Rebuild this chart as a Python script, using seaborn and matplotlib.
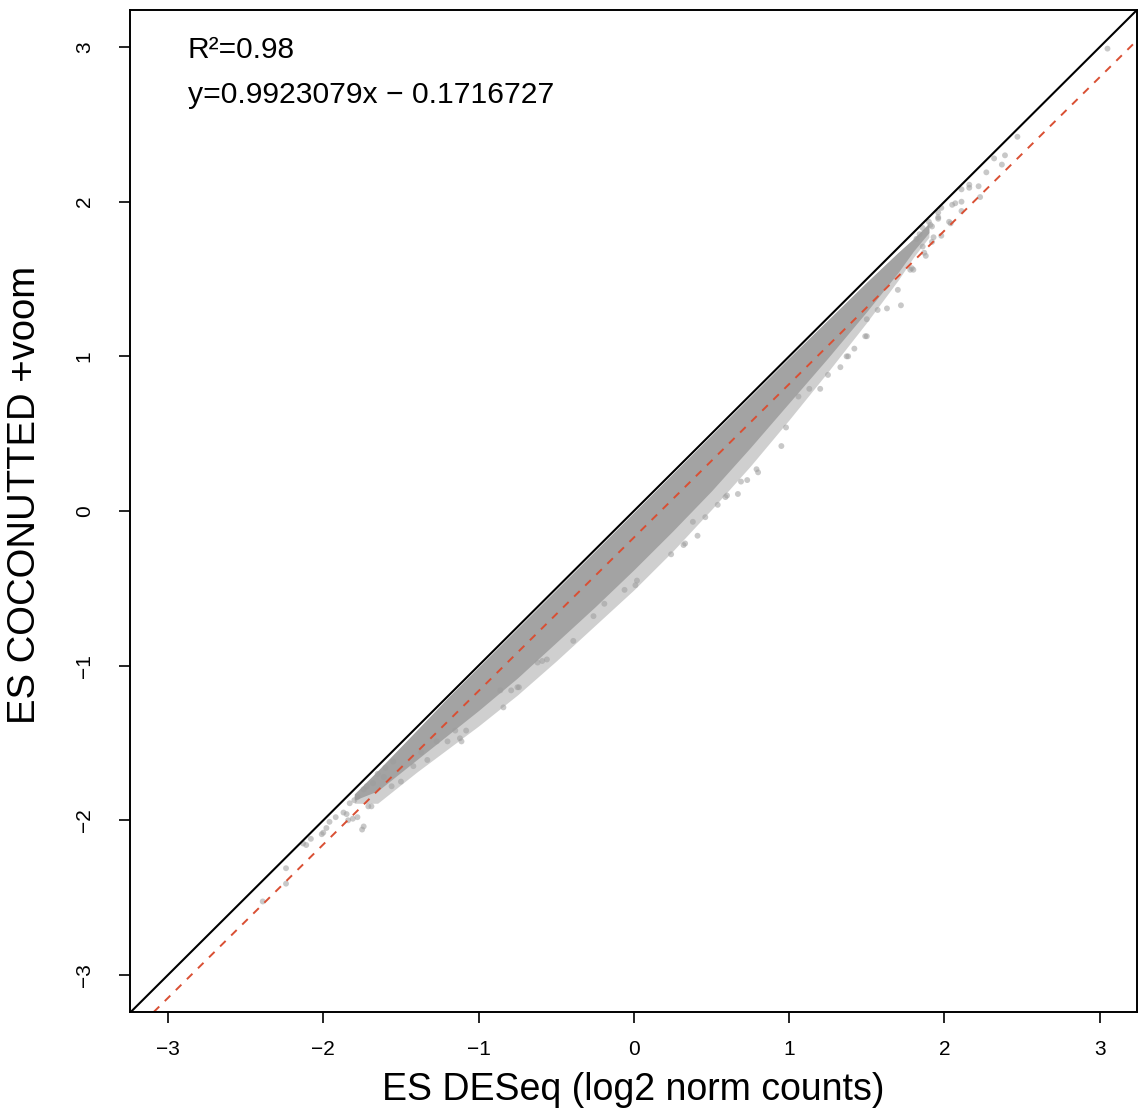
import matplotlib
matplotlib.use("Agg")
import matplotlib.pyplot as plt
import seaborn as sns
import pandas as pd

# Dense core of the cloud: x, upper y, lower y
band_x = [-1.8, -1.65, -1.4, -1.2, -1.0, -0.75, -0.5, -0.25, 0.0, 0.25, 0.5, 0.75, 1.0, 1.25, 1.5, 1.7, 1.8, 1.9]
core_hi = [-1.83, -1.68, -1.42, -1.21, -1.01, -0.76, -0.51, -0.26, -0.01, 0.24, 0.49, 0.74, 0.99, 1.235, 1.48, 1.67, 1.76, 1.86]
core_lo = [-1.87, -1.81, -1.61, -1.45, -1.29, -1.08, -0.85, -0.62, -0.38, -0.13, 0.13, 0.41, 0.70, 0.99, 1.29, 1.54, 1.68, 1.80]
halo_lo = [-1.89, -1.89, -1.69, -1.54, -1.39, -1.19, -0.97, -0.74, -0.51, -0.26, 0.01, 0.29, 0.59, 0.90, 1.22, 1.49, 1.64, 1.77]

# Sparse points in the tails and along the lower edge
pts_x = [-2.39, -2.24, -2.24, -2.11, -2.08, -2.13, -2.01, -2.00, -1.98, -1.96, -1.92, -1.87,
         -1.85, -1.84, -1.81, -1.83, -1.80, -1.78, -1.78, -1.75, -1.74, -1.74, -1.72, -1.71,
         -1.69, -1.68, -1.65, -1.60, -1.61, -1.56, -1.55, -1.50, -1.42, -1.37, -1.33, -1.27,
         -1.20, -1.15, -1.12, -1.11, -1.08, -0.86, -0.84, -0.79, -0.75, -0.74, -0.62, -0.59,
         -0.56, -0.39, -0.26, -0.19, -0.06, 0.01, 0.02, 0.24, 0.32, 0.33, 0.38, 0.41, 0.46,
         0.54, 0.59, 0.60, 0.67, 0.69, 0.73, 0.79, 0.80, 0.95, 0.98, 1.06, 1.13, 1.20, 1.25,
         1.33, 1.37, 1.38, 1.42, 1.49, 1.50, 1.50, 1.57,
         1.63, 1.70, 1.72, 1.78, 1.79, 1.80, 1.82, 1.84, 1.86, 1.86, 1.87, 1.88, 1.90,
         1.91, 1.92, 1.92, 1.93, 1.96, 1.96, 1.96, 1.98, 1.98, 2.03, 2.04, 2.05, 2.07,
         2.11, 2.11, 2.11, 2.16, 2.16, 2.22, 2.23, 2.27, 2.32, 2.37, 2.39, 2.47, 3.05]
pts_y = [-2.525, -2.41, -2.31, -2.16, -2.12, -2.15, -2.09, -2.08, -2.05, -2.01, -1.98, -1.95,
         -1.96, -2.00, -1.99, -1.89, -1.87, -1.98, -1.85, -2.06, -2.04, -1.80, -1.78, -1.91,
         -1.91, -1.76, -1.70, -1.66, -1.72, -1.78, -1.62, -1.75, -1.65, -1.56, -1.61, -1.49,
         -1.49, -1.42, -1.47, -1.49, -1.42, -1.16, -1.27, -1.16, -1.14, -1.14, -0.98, -0.97,
         -0.96, -0.84, -0.68, -0.60, -0.51, -0.48, -0.45, -0.28, -0.22, -0.21, -0.07, -0.16, -0.04,
         0.04, 0.09, 0.10, 0.11, 0.19, 0.20, 0.27, 0.25, 0.42, 0.54, 0.74, 0.79, 0.79, 0.88,
         0.93, 1.00, 1.00, 1.05, 1.13, 1.13, 1.24, 1.30,
         1.31, 1.43, 1.33, 1.56, 1.57, 1.56, 1.76, 1.79, 1.71, 1.83, 1.67, 1.65, 1.87,
         1.85, 1.74, 1.84, 1.77, 1.90, 1.93, 1.89, 1.96, 1.78, 1.87, 1.86, 1.98, 1.99,
         2.00, 1.94, 2.08, 2.09, 2.11, 2.10, 2.03, 2.19, 2.28, 2.24, 2.30, 2.42, 2.99]

ticks = [-3, -2, -1, 0, 1, 2, 3]
slope = 0.9923079
intercept = -0.1716727
r2 = 0.98

sns.set_style("ticks")
plt.rcParams['font.family'] = ['Liberation Sans', 'DejaVu Sans']
plt.rcParams['text.color'] = 'black'
plt.rcParams['axes.labelcolor'] = 'black'

fig = plt.figure(figsize=(11.38, 11.19), dpi=100)
ax = fig.add_axes([0.1142, 0.0956, 0.8849, 0.8955])

# cloud
ax.fill_between(band_x, halo_lo, core_hi, color='#a0a0a0', alpha=0.5, lw=0)
ax.fill_between(band_x, core_lo, core_hi, color='#a3a3a3', lw=0)
pts = pd.DataFrame({'x': pts_x, 'y': pts_y})
sns.scatterplot(data=pts, x='x', y='y', color='#9c9c9c', alpha=0.55, s=18,
                edgecolor='none', ax=ax)

# identity and fitted line
ax.axline((0, 0), slope=1, color='black', lw=1.5)
ax.axline((0, intercept), slope=slope, color='#d94f33', lw=1.4, ls=(0, (4, 4)))

ax.set_xlim(-3.245, 3.24)
ax.set_ylim(-3.24, 3.24)
ax.set_xticks(ticks)
ax.set_yticks(ticks)
ax.tick_params(direction='out', length=8, width=1.2, labelsize=15, colors='black')
ax.tick_params(axis='x', pad=12)
ax.tick_params(axis='y', pad=18, labelrotation=90)
for lab in ax.get_yticklabels():
    lab.set_va('center')
for sp in ax.spines.values():
    sp.set_linewidth(1.4)
    sp.set_color('black')

ax.set_xlabel("ES DESeq (log2 norm counts)", fontsize=27)
ax.set_ylabel("ES COCONUTTED +voom", fontsize=27.5)
ax.xaxis.set_label_coords(0.5, -0.078)
ax.xaxis.label.set_va('center')
ax.yaxis.set_label_coords(-0.104, 0.516)
ax.yaxis.label.set_va('center')

ax.text(0.0576, 0.952, f"R\u00b2={r2}", transform=ax.transAxes, fontsize=21.5, va='baseline')
ax.text(0.0576, 0.907, f"y={slope}x \u2212 {-intercept}", transform=ax.transAxes,
        fontsize=21.7, va='baseline')

fig.savefig("out.png", dpi=100)
